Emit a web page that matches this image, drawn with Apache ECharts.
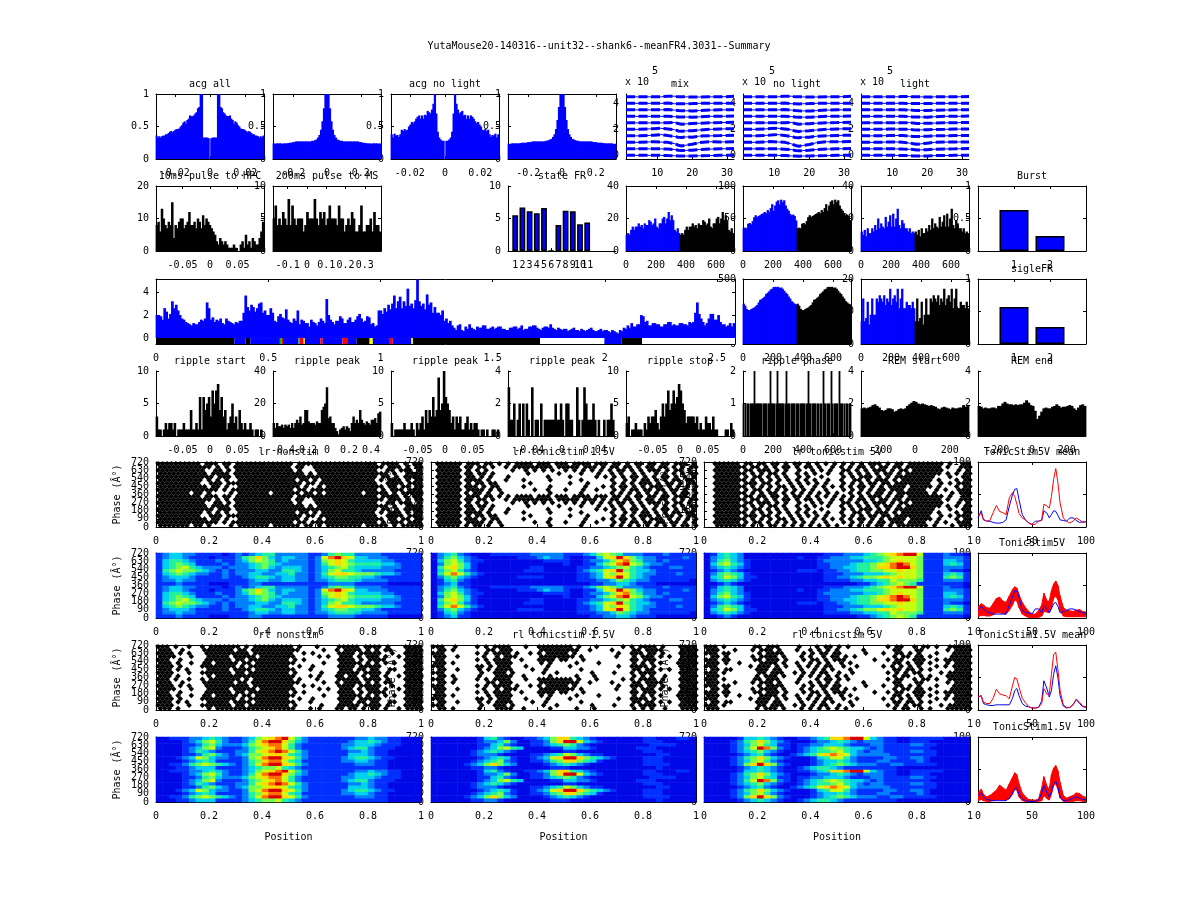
<!DOCTYPE html>
<html><head><meta charset="utf-8"><style>html,body{margin:0;background:#fff}#c{width:1200px;height:900px}</style>
<script src="https://cdn.jsdelivr.net/npm/echarts@6/dist/echarts.min.js"></script></head><body><div id="c"></div>
<script>
// ---------- values ----------
const acgAllHalf=[.36,.33,.35,.33,.35,.36,.36,.38,.38,.40,.42,.43,.41,.43,.45,.46,.46,.47,.50,.52,.56,.58,.54,.60,.62,.67,.66,.66,.67,.70,.72,.78,.80,1.1,1.1,.33,.33,.33,.33,.32,.0];
const acgWideHalf=[.24,.235,.24,.24,.24,.24,.235,.24,.24,.24,.245,.25,.25,.26,.26,.27,.27,.27,.27,.27,.27,.27,.27,.27,.27,.27,.28,.28,.29,.30,.33,.37,.45,.58,.78,1.1,1.1];
const acgNoLightHalf=[.38,.33,.39,.36,.37,.34,.38,.45,.43,.46,.44,.45,.50,.53,.57,.55,.58,.62,.65,.67,.62,.67,.62,.68,.67,.74,.72,.70,.76,.85,1.2,.70,.42,.33,.30,.28,.28,0];
const acgWide2Half=[.235,.23,.24,.24,.24,.24,.24,.24,.245,.25,.25,.25,.25,.26,.26,.26,.27,.27,.27,.27,.27,.27,.27,.27,.27,.28,.28,.29,.30,.31,.34,.38,.46,.60,.80,1.1,1.1];
const pulse10=[8,9,6,13,10,8,7,9,8,15,4,8,7,9,10,10,7,8,9,12,8,8,9,7,10,9,7,11,8,10,9,8,7,6,5,3,2,4,3,2,3,2,1,1,1,2,1,0,0,2,3,1,5,2,3,1,4,3,2,2,4,6,9];
const pulse200=[5,7,4,5,4,6,5,4,8,4,7,5,4,5,5,5,3,4,6,5,5,5,8,5,4,6,5,6,4,5,7,5,5,5,4,7,5,5,3,4,5,4,6,5,3,3,4,7,3,3,4,4,5,3,6,4,4,3];
const stateFR=[5.5,6.7,6.1,5.8,6.6,0,4,6.2,6.1,4.1,4.4];
const phaseMix=[10,11,10,13,15,13,15,15,17,15,16,14,17,16,16,19,18,16,17,20,15,14,17,17,20,21,17,20,24,19,22,19,13,12,14,11];
const phaseNoLight=[35,36,35,42,43,41,46,52,55,52,54,55,57,58,60,58,63,60,66,72,62,70,76,78,72,79,75,78,70,65,62,57,55,56,54,47];
const phaseLight=[12,10,13,9,14,11,11,14,12,16,13,20,14,17,15,14,21,15,18,22,15,23,15,20,26,16,14,19,17,14,14,12,14,11,12,11];
const phaseAll=[310,295,270,262,260,268,275,280,290,300,320,340,345,355,365,385,395,405,420,425,438,440,438,440,430,435,425,410,395,385,365,350,330,320,310,305];
const phaseSparse=[7,14,7,8,13,6,9,14,9,9,14,13,15,14,13,15,12,14,13,17,12,14,15,13,17,11,14,17,11,11,13,12,12,11,13,11];
const burst=[.63,.23];
const singleFR=[.57,.26];
const longHist=[2.0,2.0,1.9,1.6,2.6,2.3,1.7,2.1,3.2,2.6,2.9,2.4,2.0,1.7,1.6,1.4,1.3,1.2,1.1,1.3,1.2,1.2,1.4,1.6,1.5,1.7,3.1,2.6,1.6,1.8,1.4,1.6,1.5,1.7,1.3,1.2,1.7,1.5,1.4,1.3,1.2,1.4,1.3,1.5,1.5,2.2,3.7,2.7,2.4,2.9,2.7,2.3,2.6,3.0,3.1,2.2,2.4,2.0,
2.0,2.6,2.2,1.5,1.4,1.9,2.1,1.8,1.7,2.5,1.6,1.4,1.3,1.7,1.5,2.4,1.2,1.6,1.5,1.3,1.3,1.0,1.6,1.4,1.3,1.1,1.4,1.7,1.5,1.3,3.4,2.0,1.6,1.4,1.2,1.5,1.5,1.9,1.7,1.3,1.3,1.6,1.8,1.4,1.4,1.6,1.9,2.1,1.7,1.4,1.5,1.9,1.8,1.2,1.3,1.0,1.1,2.4,
2.4,2.1,2.6,2.3,2.9,2.5,3.0,3.7,2.6,3.2,3.6,2.6,3.2,2.8,4.3,2.8,3.0,2.6,3.3,5.1,3.2,2.8,3.0,2.5,3.8,2.9,3.1,2.2,2.7,2.2,2.2,2.0,2.4,1.5,1.7,1.3,1.5,1.1,
.9,.7,1.1,1.2,.7,.6,1.0,.8,1.2,.9,.8,.7,1.0,.9,.9,1.1,1.1,.8,.8,.9,1.0,.8,.9,1.0,1.0,.8,.8,.7,.7,.9,.9,1.0,1.0,.8,.9,1.1,.7,.8,.8,1.0,1.0,1.1,1.1,.9,.8,.7,.9,1.0,1.0,.9,1.2,.9,.8,.7,
.9,.8,.7,.8,.8,.6,.7,.8,.9,.7,.7,.6,.8,.7,.6,.7,.8,.9,.7,.6,.6,.7,.8,.6,.7,.7,.6,.5,.7,.6,.5,.4,
.7,.6,.9,.8,1.1,.9,1.3,1.0,1.0,1.2,1.2,2.0,1.9,1.4,1.5,1.1,1.1,1.3,1.3,1.2,1.2,1.0,1.0,1.2,1.2,1.4,1.4,1.1,1.2,1.1,1.1,1.3,1.3,1.2,1.2,1.1,1.4,1.3,1.4,2.2,3.1,2.1,1.7,1.4,1.1,1.3,1.7,2.1,2.1,1.6,1.6,2.0,1.4,1.2,1.2,1.0,1.1,1.3,1.0,1.3];
const stateStart=[0,.349,.399,.420,.552,.559,.566,.635,.640,.658,.663,.732,.743,.831,.852,.894,.952,.966,1.042,1.055,1.138,1.145,1.712,1.998,2.074,2.166];
const stateEnd=[.349,.399,.420,.552,.559,.566,.635,.640,.658,.663,.732,.743,.831,.852,.894,.952,.966,1.042,1.055,1.138,1.145,1.712,1.998,2.074,2.166,2.58];
const stateKind="kbkbgrbgrybrbrbkybrbykwbkw";
const rippleStart=[3,1,1,0,1,2,1,2,2,1,2,0,1,1,1,2,1,1,1,4,1,1,2,1,6,1,6,4,5,6,3,7,5,7,8,4,6,3,4,1,2,3,5,2,3,1,4,2,1,2,1,1,2,1,0,1,1,0,1,0];
const ripplePeakA=[8,5,8,6,6,7,5,7,6,7,5,8,5,8,10,8,12,7,8,16,16,9,8,8,8,7,9,8,8,16,18,20,30,11,12,8,8,5,3,1,4,5,6,4,6,5,3,8,12,8,10,8,16,10,8,7,9,8,7,10,10,11,8,14,15];
const ripplePeakB=[2,0,1,1,1,1,1,2,1,1,1,2,1,0,2,1,2,3,1,4,2,4,3,6,3,4,9,4,5,10,6,5,4,2,3,1,3,2,3,1,1,2,3,1,2,1,2,2,1,0,1,1,0,1,0,0,1,1,0,1];
const ripplePeakC=[3,1,1,2,0,1,2,0,2,0,2,1,0,3,0,1,1,0,2,0,1,1,1,1,1,1,2,1,1,2,1,0,2,2,1,1,0,0,3,1,0,1,3,2,1,1,1,2,1,0,1,0,0,1,0,1,1,2,1,0];
const rippleStop=[2,3,0,1,1,2,1,1,1,0,2,1,3,2,3,3,4,2,1,3,5,3,5,7,4,5,7,5,6,8,7,5,4,2,3,3,3,3,2,3,1,2,1,1,3,2,2,1,3,1,1,0,0,0,0,1,1,0,2,1];
const ripplePhase=[1,0,1,0,1,1,0,1,1,1,1,2,1,1,1,1,1,1,1,0,1,1,1,1,0,1,1,2,1,1,1,1,0,1,2,1,1,1,1,1,1,0,1,2,1,1,1,0,1,1,1,1,0,1,1,1,0,1,1,1,1,1,0,1,1,2,1,1,0,1,1,1,1,0,1,1,0,1,1,0,2,1,1,0,1,1,1,0,2,1,0,1,1,1,1,0,2,1,1,1,0,1,0,1,1,0,1,1];
const remStart=[1.7,1.75,1.7,1.75,1.8,1.9,1.95,1.85,1.75,1.6,1.55,1.6,1.7,1.7,1.65,1.5,1.55,1.65,1.7,1.65,1.7,1.85,1.95,2.05,2.15,2.1,2,1.95,2,1.95,1.9,1.85,1.9,1.85,1.8,1.7,1.65,1.75,1.8,1.75,1.7,1.65,1.75,1.7,1.7,1.75,1.75,1.9,1.8,1.85];
const remEnd=[1.85,1.8,1.7,1.75,1.7,1.7,1.75,1.75,1.7,1.85,1.85,2,2.1,2,1.95,1.95,1.9,1.95,1.9,1.95,1.95,2.05,2.2,2.05,1.9,1.85,1.55,1.05,1.25,1.5,1.7,1.75,1.7,1.7,1.8,1.85,1.95,1.85,1.75,1.8,1.8,1.85,1.9,1.85,1.7,1.6,1.75,1.9,1.95,1.85];
const waveX=[1,5,9,11,13,15,16,17,18,20,22,25,28,32];
const waveLevels=[0,.5,1,1.5,2,2.5,3,3.5,4,4.5];
const waveMix=[[0,0,0,0,-2,-3,-4,-5,-5,-5,-3,-2,0,0],[0,0,0,0,-2,-5,-10,-12,-12,-10,-5,-2,0,2],[0,0,5,2,0,-10,-22,-28,-22,-15,-2,5,3,5],[0,0,5,10,2,-5,-10,-12,-8,-10,-2,0,2,5],[0,0,5,8,3,-3,-12,-15,-12,-10,-5,0,3,5],[0,0,0,0,0,3,-5,-10,-8,-5,-3,0,2,5],[0,0,0,0,0,-2,-5,-5,-5,-6,-4,0,0,2],[0,0,0,0,2,-2,-5,-6,-7,-8,-6,-2,0,0],[0,0,0,0,2,-3,-3,-3,-3,-2,0,0,0,0],[0,0,0,0,5,5,0,0,0,-2,-1,0,0,4]];
const waveNoLight=[[0,0,0,0,-2,-4,-5,-6,-5,-5,-3,-2,0,0],[0,0,0,0,-3,-6,-12,-15,-14,-10,-5,-2,0,2],[0,0,6,3,0,-12,-24,-30,-25,-17,-3,5,4,6],[0,0,6,10,3,-6,-12,-14,-10,-10,-3,0,3,5],[0,0,6,9,3,-4,-13,-16,-13,-10,-5,0,3,5],[0,0,0,0,0,3,-5,-11,-9,-6,-3,0,2,5],[0,0,0,0,0,-2,-5,-6,-6,-7,-4,0,0,2],[0,0,0,0,2,-2,-5,-7,-8,-9,-6,-2,0,0],[0,0,0,0,2,-3,-3,-4,-3,-2,0,0,0,0],[0,0,0,0,5,5,0,0,0,-2,-1,0,0,4]];
const waveLight=[[0,0,0,0,-2,-2,-5,-5,-5,-4,-2,-2,0,0],[0,0,0,0,-2,-3,-5,-8,-8,-6,-3,-1,0,2],[0,0,3,3,0,-6,-10,-15,-12,-6,0,2,3,3],[0,0,2,3,2,-2,-4,-5,-4,-3,0,0,2,2],[0,0,2,2,1,0,-3,-4,-4,-3,-1,0,2,2],[0,0,0,0,0,2,-2,-4,-4,-3,-2,0,1,3],[0,0,0,0,0,-2,-5,-5,-5,-6,-3,0,0,2],[0,0,0,0,1,-1,-3,-4,-4,-4,-3,-1,0,0],[0,0,0,0,1,-1,-2,-2,-2,-1,0,0,0,0],[0,0,0,0,2,2,0,0,0,-1,0,0,0,2]];
const meanX=[0,3,5,8,11,14,17,20,23,26,29,32,34,36,38,41,44,47,50,53,56,59,61,64,66,68,70,72,74,76,79,82,85,88,91,94,97,100];
const mean5Red=[18,21,12,9,10,22,33,24,22,19,45,53,47,35,21,14,11,6,4,4,9,11,35,32,29,47,73,90,68,37,14,9,6,9,14,11,7,8];
const mean5Blue=[14,25,11,9,9,7,6,6,7,11,32,50,58,59,42,19,11,6,4,9,9,10,25,21,14,19,25,24,18,11,10,9,14,14,10,7,8,8];
const mean15Red=[20,22,12,10,10,18,32,25,23,22,17,38,50,48,35,18,11,5,3,3,4,10,33,24,24,55,85,89,62,30,8,4,4,8,17,12,6,5];
const mean15Blue=[20,22,10,8,7,7,8,8,8,8,8,18,30,33,22,10,6,5,3,3,4,14,45,32,20,30,55,68,50,22,6,3,4,8,16,10,5,4];
const cloud5Hi=[17,22,20,16,15,22,30,32,26,24,34,44,48,46,36,24,16,10,6,6,11,20,38,26,26,42,52,57,50,34,16,12,11,10,12,13,10,9];
const cloud5Lo=[2,4,4,3,3,5,8,8,7,6,12,20,28,26,16,6,3,1,1,1,1,3,10,9,8,16,30,34,28,12,3,2,2,2,2,2,2,2];
const cloud5Blue=[12,18,14,10,8,6,6,6,6,6,20,32,42,42,32,12,8,8,6,14,14,8,18,14,8,14,22,24,18,8,10,12,14,14,12,10,8,8];
const cloud15Hi=[14,20,12,8,10,14,18,26,22,18,28,38,45,42,28,14,8,4,3,3,4,22,39,24,20,42,52,56,48,30,10,6,8,10,14,13,9,7];
const cloud15Lo=[2,4,2,1,1,2,3,3,3,3,5,12,20,18,8,2,1,1,1,1,1,2,10,5,3,12,25,28,20,6,1,1,1,1,2,2,1,1];
const cloud15Blue=[10,14,8,4,3,2,2,2,2,2,6,14,20,22,12,5,2,1,1,1,3,14,26,14,8,16,28,32,22,8,2,2,4,6,8,6,4,3];
// spike maps: one cycle of phase, top row = 342 deg, bottom row = 18 deg; 60 position bins, spaces only group them
const rasterLrNon=["########## .###.##.## ########## #.######## ########## .####.#.##","########## ##.#.#.### ########## .##..##### ########## #.###.#.##","########## #..##.#.## ########## #.#...#### ########## ..##.###.#","########## #.####.### ########## ###.#.#### ########## ##.#..####","########## ###.###.## ########## ########## ########## .##.#.####","########## .#.#.#..## ########## #.##.#.### #########. #.###.#.##","########## ..###.#### ########## ###.##.### ########## ..####.###","########## #.##.#..## ########## ##.#..#.## ########## #.##.##.##","########## ####.#.### ########## #.##.##### ########## .#.###.###","#######.## .#....#.## #####.#### ##.##.#.## ######.### ##.#.#####"];
const rasterLr15=[".######.## #.##.#.#.# ###.###.## #.####.### .##.#.##.# #.##.###.#",".#####.##. ##.#..#.## #######.## ###.###.#. ##.##.#.## .##.#.#.##",".######.#. #.#.....#. .#.#.#.#.. #.#.#.#.#. #.##.#.#.# ##.#.##.#.",".#####.##. ##.#...... .#......#. ...#...#.. #.#..#.#.. #.#.#.#.##",".######.## .#.#...#.. ......#... .#.....#.# .#.#.##.#. #.##.#.#.#",".#####.### #.#...#... #.....#... ...#...... #..#.#.##. #.#.##.##.",".######.#. ##.##..... ..#....... .#...#.... .#.#.#.### .#.##.#.##",".#####.### .#.##..... #.....#... ....#...#. #.##.#.#.# ##.#.#.#.#",".######.## ##.#.#.... ...#..#... #...#..#.. .#.#.##.## .##.##.#.#",".#####.#.# #.#..#.... ......#... ...#...... #.#.#.#.#. #.#.#.##.#"];
const raster5V=["..######.# #.##.##.#. ##.#.#.#.# .#.#.#.### .#.##.#### ####.#..##","..#######. ##.#.#.##. #.##.#..#. #.#.##.#.# #.##.##### ###.#..###","..######.# #.###.#.#. .#..#.#.#. .##.#.#.## #.#.##.### ####...#.#","..#######. #.#.##.#.. #.#.#..#.. #.#.#.#.#. ##.#.##### ###.#.#.##","..######.# .##.#.#.#. .#.#..#... .#.#.###.# .#.####### ##...#..##","..#######. #.#.#.#.#. #.#.#..#.. #..##.#.## #.#.###### #.#...#.##","..######.# ##.##.#..# .#.#.#.#.. .#.#.#.##. ##.####### #..#.#.###","..#######. #.#.#.##.# .#..#.#.#. #.#.##.#.# .####.#### #.#...#.##","..######.# .##.#.#.#. #.#.#..#.. .#.#.#.#.# #.###.#### ..#.#..###","..#######. #.#.##.#.# .#.#.#.#.# ..#.#.#.## .#.####### .#...#.###"];
const raster2Non=["###.#..#.. #.#######. #.######## #.#...#... .#####.### #.#...####","###..#.... #######.## .######### ##.....#.. #.####.#.# .##...####","####.#.#.. .######### #.######## #..#.#.... .####.#### #..#..####","####...#.. .#####.### ##.####### #.....#.#. .###.#.### .#..#.####","###..#.... .######.## .######### .#.#...... .####.#.## ##....####","###.#..#.. ##.#####.# #.######## #......#.. .#####.#.# .#.#..####","####.#.... ########.# .######### ..#..#.... .####.#### #.....####","###.#.#... .#####.### #.######## #...#..... .###.##.## ..##..####","####...#.. #######.## .######### .#.....#.. .#####.### #.#...####","###.#..... .#.####### ########## #...#.#... ##.##.#.## .#..#.####"];
const raster2L15=["###..#.... #.#.####.. .#..###### ##.#...#.. ...#.#.### #.#...####",".##.#..... ..##.###.. ....###### ###..#.... #....##.## ##....####","###....... #.#.####.# ..#.#.#### #.#....... ..#..###.# #.#...####","###..#.... .#..#.###. ....###### ##.#...... .#...#.### .#.#..####",".##....... #.#.####.. #...####.# #...#..... .....##.## #.....####","###.#..... ..#.####.. ....#.#... ..#....#.. .....#.#.# .#...#####","###....... ##.#.###.. .#....#... .#........ ..#..####. #.....####",".##..#.... #.#.####.. ..#..#.... ...#...... .....##.## .#.#..####","###....... .#..###.#. .....#..#. ......#... .#...#.### #.....####",".##.#..... #...####.. #.....#... ..#...#... .....#.#.# ..#...####"];
const raster2L5=["###.#..... .##.###... .#...#.##. #.#....... .#.##..#.# #.#..#####","###...#... #.###.#... #..#.#.#.# .....#.... ..##...##. ....#.####","###.##.... ..#.####.. ..#.#.##.# #.....#... #..##.#.#. ..#...####",".##.#..... #.####.#.. .#.#..#.## .#.#...... ..#.##.##. #....#####","###.##.... .##.###.#. ..#.##.#.# ##......#. .#.##..### ..#.######","###.#..#.. ..####.#.. #..#.#.#.. #.#....... ..##.#.##. #...#.####","###....... #.###.#.#. .#.#.#.##. .#..#..... #.#.#.#.#. ..#.#.####",".##.##.... .###.##... .#..#.#.#. ..#....... ..##.##.#. #.....####","###.#..... ..##.###.. #.#.#.##.. #..#...... .#.#.#.##. ...#.#####","###....... .#.###.#.. .#.#.#.#.# .#........ ..#.##..#. #...######"];
// heat maps: one cycle of phase, top row = 342 deg, 40 position bins, 0 = deep blue ... 9 = red
const heatLrNon=["1233221111 0121234422 2221124544 2222111111","1233211101 1124575323 3221268976 3322211111","1344321112 1123565423 2221256764 3333221111","1345431111 2122345432 2221246765 4444332111","1345643222 1222345323 3321234564 3333222111","1456554321 2122233224 4321235644 3222221111","1345432211 2122332233 4221246776 5554332111","1233321111 2112344323 3221234554 4332111111","1223221111 1111233223 3221223444 3222211111","1112111100 0111221111 1111112222 1111100000"];
const heatLr15=["0234210001 1111122222 1112356542 2211121111","0245321000 0001112322 1001136797 5322111121","0356421100 0000000111 1001223578 5422121111","0256531000 0000000000 1001135689 6532211111","0467531000 0000011000 0011223456 4321112211","0356421000 0000111000 0012346795 4332111111","0468642100 0000000000 0011236576 4322111211","0245321000 0001111000 0011236796 4321111111","0134210000 0000000000 0011122354 3221111110","0123110000 0000000000 0000112233 2111000000"];
const heat5V=["0134320000 0000000011 1222345678 9961112110","0234320000 0000100112 2233444566 6651112221","0245321000 0000000122 2222334567 6651113321","0356431000 0000000112 2234456789 8651113431","0234321000 0000000112 2334457789 9751112221","0123210000 0000111011 2234455667 6651112110","0245431000 0000000011 1222333456 6651113431","0346531100 0000000011 2234556767 6651114541","0234321000 0000000011 1122334465 5541112221","0012100000 0000000000 0001123456 5411111110"];
const heat2Non=["0011122343 2112356789 6421111111 2232211000","0000123564 2112468997 5321111112 3343211000","0000112453 2223567886 4211111122 3332111000","0000123562 1112456786 4211111123 4421110000","0000124321 1122467898 6421111112 2321100000","0000112453 2123556776 4321111113 3321100000","0001236532 2112568997 6421111123 4432110000","0000123431 1112457886 4311111122 3321100000","0011245654 3212468997 6421111111 2221100000","0001123331 1112345564 3211111111 1111100000"];
const heat2L15=["0000000134 2100112357 7432100000 0011000110","0000000122 3520011257 9963210000 0011100000","0000000113 4210011234 5421000000 0001111000","0000000123 5643000011 3322100000 0111000000","0000001234 3210000000 1100000000 0011100000","0000001222 1000011234 6532110000 0000110000","0000000123 4310012367 9975432100 0011100000","0000001234 5210011245 7754310000 0011100000","0000012357 5320000123 4321000000 0011110000","0000001122 1000000011 1000000000 0000100000"];
const heat2L5=["0000013343 2100112347 7899632110 0111110000","0000124575 3210001223 4321222110 0111000000","0000123564 3110112233 3211122111 1221100000","0000124698 5210123456 5433212111 1111000000","0000123453 2100123445 6432122111 1221100000","0000012342 1001234678 7632222211 1111100000","0000124575 3210001346 6421111221 1221000000","0000123564 2100001233 4321112211 1121000000","0000125797 5210001234 5432221122 1111100000","0000012343 2100123443 2111111110 0000000000"];
const posTicks=[0,.2,.4,.6,.8,1];
const phaseTicks=[0,90,180,270,360,450,540,630,720];
const hundredTicks=[0,50,100];
const phaseHistTicks=[0,200,400,600];
const lineTicksY=[0,.5,1];
// ---------- layout ----------
const FONT='DejaVu Sans Mono';
const colX=[156,273,391,508,626,743,861,978];
const W=108,H=65;
const rowY=[94,186,279,371,462,553,645,737];
const colors={k:'#000',b:'#0000ff',g:'#00c000',r:'#ff0000',y:'#ffff00',w:'#ffffff'};
const heatColors=['#0008e8','#0030ff','#0080ff','#00d0f0','#20f0a0','#70ff50','#c8ff10','#ffd800','#ff7000','#d80000'];
const grid=[],xAxis=[],yAxis=[],series=[],title=[],heatIdx=[];
function text(x,y,t,align){title.push({text:t,left:x,top:y-6,padding:0,textAlign:align||'center',textStyle:{fontFamily:FONT,fontSize:10,fontWeight:'normal',color:'#000',lineHeight:12}});}
function ax(gi,type,pos,min,max,ticks,labels,extra,shown){
 const line={color:'#000',width:1};
 const show=shown||ticks;
 const eps=(max-min)*1e-6;
 // blank neighbours at both ends keep every real label through the min/max overlap check
 const vals=show.slice();
 vals.unshift(vals[0]>min?min:min+eps);
 vals.push(vals[vals.length-1]<max?max:max-eps);
 if(vals[vals.length-1]===max-eps){const t=vals.pop();vals.splice(vals.length-1,0,t);}
 if(vals[0]===min+eps){const t=vals.shift();vals.splice(1,0,t);}
 return Object.assign({gridIndex:gi,type:'value',position:pos,min,max,scale:true,
  axisLine:{show:true,onZero:false,lineStyle:line},splitLine:{show:false},
  axisTick:{show:true,inside:true,length:3,lineStyle:line,customValues:ticks},
  axisLabel:labels?{show:true,customValues:vals,margin:type==='x'?9:7,fontFamily:FONT,fontSize:10,color:'#000',hideOverlap:false,formatter:v=>show.includes(v)?String(v):''}:{show:false,customValues:ticks}},extra||{});
}
function plot(o){
 const gi=grid.length;
 const w=o.w||W,h=o.h||H;
 grid.push({left:o.x,top:o.y,width:w,height:h});
 const xi=xAxis.length,yi=yAxis.length;
 const xx={},yx={};
 if(o.xname)Object.assign(xx,{name:o.xname,nameLocation:'middle',nameGap:30,nameTextStyle:{fontFamily:FONT,fontSize:10,color:'#000'}});
 if(o.yname)Object.assign(yx,{name:o.yname,nameLocation:'middle',nameGap:34,nameTextStyle:{fontFamily:FONT,fontSize:10,color:'#000'}});
 xAxis.push(ax(gi,'x','bottom',o.xr[0],o.xr[1],o.xt,true,xx));
 yAxis.push(ax(gi,'y','left',o.yr[0],o.yr[1],o.yt,true,yx,o.yl));
 if(o.box!==false){
  xAxis.push(ax(gi,'x','top',o.xr[0],o.xr[1],o.xt,false));
  yAxis.push(ax(gi,'y','right',o.yr[0],o.yr[1],o.yt,false));
 }
 if(o.title)text(o.x+w/2,o.y-10,o.title);
 return {gi,xi,yi,w,h,xr:o.xr};
}
function bars(p,vals,colorFn){
 const n=vals.length,step=(p.xr[1]-p.xr[0])/n;
 series.push({type:'bar',xAxisIndex:p.xi,yAxisIndex:p.yi,barWidth:p.w/n+0.8,animation:false,
  itemStyle:{color:colorFn||'#000'},data:vals.map((v,i)=>[p.xr[0]+(i+.5)*step,v])});
}
const mirror=a=>a.concat(a.slice(0,-1).reverse());
const twice=a=>a.concat(a);
const splitColor=p=>p.dataIndex<36?'#0000ff':'#000000';
function boxedBars(p,xs,vals,width){
 series.push({type:'bar',xAxisIndex:p.xi,yAxisIndex:p.yi,barWidth:width,animation:false,
  itemStyle:{color:'#0000ff',borderColor:'#000',borderWidth:1.5},data:vals.map((v,i)=>[xs[i],v])});
}
function wave(p,rows){
 rows.forEach((r,i)=>{
  const d=r.map((v,j)=>[waveX[j],waveLevels[i]+v/100]);
  series.push({type:'line',xAxisIndex:p.xi,yAxisIndex:p.yi,showSymbol:false,animation:false,lineStyle:{color:'#0000ff',width:1},data:d});
  series.push({type:'line',xAxisIndex:p.xi,yAxisIndex:p.yi,showSymbol:false,animation:false,lineStyle:{color:'#0000ff',width:3,type:[9,3.5],cap:'butt'},data:d});
 });
}
function raster(p,rows,size){
 const pts=[];
 for(let cyc=0;cyc<2;cyc++)rows.forEach((raw,r)=>{
  const s=raw.replace(/ /g,''),n=s.length,half=(r%2)*.5;
  for(let c=0;c<n;c++)if(s[c]==='#')pts.push([(c+.5+half)/n,cyc*360+(rows.length-1-r+.5)*36]);
 });
 series.push({type:'scatter',xAxisIndex:p.xi,yAxisIndex:p.yi,symbol:'diamond',symbolSize:size,clip:false,animation:false,itemStyle:{color:'#000',opacity:1},data:pts});
}
function heat(p,rawRows){
 const rows=rawRows.map(s=>s.replace(/ /g,''));
 const cx=xAxis.length,cy=yAxis.length;
 xAxis.push({gridIndex:p.gi,type:'category',show:false,data:rows[0].split('').map((_,i)=>i)});
 const yn=rows.length*2;
 yAxis.push({gridIndex:p.gi,type:'category',show:false,data:Array.from({length:yn},(_,i)=>i)});
 const pts=[];
 for(let cyc=0;cyc<2;cyc++)rows.forEach((s,r)=>{
  for(let c=0;c<s.length;c++)pts.push([c,cyc*rows.length+rows.length-1-r,+s[c]]);
 });
 heatIdx.push(series.length);
 series.push({type:'heatmap',xAxisIndex:cx,yAxisIndex:cy,animation:false,data:pts});
}
function lines(p,data,color,w){
 series.push({type:'line',xAxisIndex:p.xi,yAxisIndex:p.yi,showSymbol:false,animation:false,lineStyle:{color,width:w||1},data:data.map((v,i)=>[meanX[i],v])});
}
function cloud(p,lo,hi,blue){
 series.push({type:'custom',xAxisIndex:p.xi,yAxisIndex:p.yi,animation:false,clip:true,encode:{x:0,y:[1,2]},
  data:meanX.map((x,i)=>[x,lo[i],hi[i],i]),
  renderItem:(params,api)=>{
   const i=api.value(3);
   if(i>=meanX.length-1)return null;
   const pts=[[meanX[i],lo[i]],[meanX[i],hi[i]],[meanX[i+1],hi[i+1]],[meanX[i+1],lo[i+1]]].map(c=>api.coord(c));
   return {type:'polygon',shape:{points:pts},style:{fill:'#ff0000',stroke:'#ff0000',lineWidth:1}};
  }});
 lines(p,blue,'#0000ff',1);
}
// ---------- row 1 ----------
const acgT=[-.02,0,.02],acgWT=[-.2,0,.2],unitT=[0,.5,1];
bars(plot({x:colX[0],y:rowY[0],xr:[-.0307,.0307],xt:acgT,yr:[0,1],yt:unitT,title:'acg all'}),mirror(acgAllHalf),'#0000ff');
bars(plot({x:colX[1],y:rowY[0],xr:[-.32,.32],xt:acgWT,yr:[0,1],yt:unitT}),mirror(acgWideHalf),'#0000ff');
bars(plot({x:colX[2],y:rowY[0],xr:[-.0307,.0307],xt:acgT,yr:[0,1],yt:unitT,title:'acg no light'}),mirror(acgNoLightHalf),'#0000ff');
bars(plot({x:colX[3],y:rowY[0],xr:[-.32,.32],xt:acgWT,yr:[0,1],yt:unitT}),mirror(acgWide2Half),'#0000ff');
[[4,'mix',waveMix],[5,'no light',waveNoLight],[6,'light',waveLight]].forEach(([c,t,d])=>{
 const p=plot({x:colX[c],y:rowY[0],xr:[1,32],xt:[10,20,30],yr:[-.28,4.72],yt:[0,2,4],box:false});
 wave(p,d);
 text(colX[c]+54,84,t);
 text(colX[c]-1,82,'x 10','left');
 text(colX[c]+26,71,'5','left');
});
// ---------- row 2 ----------
bars(plot({x:colX[0],y:rowY[1],xr:[-.098,.098],xt:[-.05,0,.05],yr:[0,20],yt:[0,10,20],title:'10ms pulse to HPC'}),pulse10);
bars(plot({x:colX[1],y:rowY[1],xr:[-.176,.384],xt:[-.1,0,.1,.2,.3],yr:[0,10],yt:[0,5,10],title:'200ms pulse to MS'}),pulse200);
const sfrX=stateFR.map((_,i)=>i+1);
boxedBars(plot({x:colX[3],y:rowY[1],xr:[0,15],xt:sfrX,yr:[0,10],yt:[0,5,10],title:'state FR',box:false}),sfrX,stateFR,5.8);
bars(plot({x:colX[4],y:rowY[1],xr:[0,720],xt:phaseHistTicks,yr:[0,40],yt:[0,20,40]}),twice(phaseMix),splitColor);
bars(plot({x:colX[5],y:rowY[1],xr:[0,720],xt:phaseHistTicks,yr:[0,100],yt:[0,50,100]}),twice(phaseNoLight),splitColor);
bars(plot({x:colX[6],y:rowY[1],xr:[0,720],xt:phaseHistTicks,yr:[0,40],yt:[0,20,40]}),twice(phaseLight),splitColor);
boxedBars(plot({x:colX[7],y:rowY[1],xr:[0,3],xt:[1,2],yr:[0,1],yt:lineTicksY,title:'Burst'}),[1,2],burst,29);
// ---------- row 3 ----------
const longP=plot({x:colX[0],y:rowY[2],w:579,xr:[0,2.58],xt:[0,.5,1,1.5,2,2.5],yr:[-.52,5.14],yt:[0,2,4]});
bars(longP,longHist,'#0000ff');
series.push({type:'custom',xAxisIndex:longP.xi,yAxisIndex:longP.yi,animation:false,
 data:stateStart.map((s,i)=>[s,stateEnd[i],i]),encode:{x:[0,1]},
 renderItem:(params,api)=>{
  const a=api.coord([api.value(0),0]),b=api.coord([api.value(1),-.52]);
  return {type:'rect',shape:{x:a[0],y:a[1],width:b[0]-a[0],height:b[1]-a[1]},style:{fill:colors[stateKind[api.value(2)]]}};
 }});
bars(plot({x:colX[5],y:rowY[2],xr:[0,720],xt:phaseHistTicks,yr:[0,500],yt:[0,250,500],yl:[0,500]}),twice(phaseAll),splitColor);
bars(plot({x:colX[6],y:rowY[2],xr:[0,720],xt:phaseHistTicks,yr:[0,20],yt:[0,10,20]}),twice(phaseSparse),splitColor);
boxedBars(plot({x:colX[7],y:rowY[2],xr:[0,3],xt:[1,2],yr:[0,1],yt:lineTicksY,title:'sigleFR'}),[1,2],singleFR,29);
// ---------- row 4 ----------
const r4=[[rippleStart,'ripple start',[-.098,.098],[-.05,0,.05],[0,10],[0,5,10]],
 [ripplePeakA,'ripple peak',[-.49,.49],[-.4,-.2,0,.2,.4],[0,40],[0,20,40]],
 [ripplePeakB,'ripple peak',[-.098,.098],[-.05,0,.05],[0,10],[0,5,10]],
 [ripplePeakC,'ripple peak',[-.066,.066],[-.04,0,.04],[0,4],[0,2,4]],
 [rippleStop,'ripple stop',[-.098,.098],[-.05,0,.05],[0,10],[0,5,10]],
 [ripplePhase,'ripple phase',[0,720],phaseHistTicks,[0,2],[0,1,2]],
 [remStart,'REM start',[-310,310],[-200,0,200],[0,4],[0,2,4]],
 [remEnd,'REM end',[-310,310],[-200,0,200],[0,4],[0,2,4]]];
r4.forEach((r,i)=>bars(plot({x:colX[i],y:rowY[3],xr:r[2],xt:r[3],yr:r[4],yt:r[5],title:r[1],box:false}),r[0]));
// ---------- raster / heat rows ----------
const bigX=[156,431,704],bigW=[265,265,266];
const PH='Phase (\u00C2\u00B0)';
const big=[[4,['lr nonstim','lr tonicstim 1.5V','lr tonicstim 5V'],[rasterLrNon,rasterLr15,raster5V],true],
 [5,[null,null,null],[heatLrNon,heatLr15,heat5V],false],
 [6,['rl nonstim','rl tonicstim 1.5V','rl tonicstim 5V'],[raster2Non,raster2L15,raster2L5],true],
 [7,[null,null,null],[heat2Non,heat2L15,heat2L5],false]];
big.forEach(([r,ts,ds,isR])=>ds.forEach((d,i)=>{
 const p=plot({x:bigX[i],y:rowY[r],w:bigW[i],xr:[0,1],xt:posTicks,yr:[0,720],yt:phaseTicks,title:ts[i],yname:PH,xname:r===7?'Position':null});
 if(isR)raster(p,d,r===4&&i===0?5.5:5.5); else heat(p,d);
}));
// ---------- right column ----------
const rP=(y,t)=>plot({x:colX[7],y,xr:[0,100],xt:hundredTicks,yr:[0,100],yt:hundredTicks,title:t});
let q=rP(rowY[4],'TonicStim5V mean');lines(q,mean5Blue,'#0000ff');lines(q,mean5Red,'#ff0000');
q=rP(rowY[5],'TonicStim5V');cloud(q,cloud5Lo,cloud5Hi,cloud5Blue);
q=rP(rowY[6],'TonicStim1.5V mean');lines(q,mean15Blue,'#0000ff');lines(q,mean15Red,'#ff0000');
q=rP(rowY[7],'TonicStim1.5V');cloud(q,cloud15Lo,cloud15Hi,cloud15Blue);
text(599,46,'YutaMouse20-140316--unit32--shank6--meanFR4.3031--Summary');
const chart=echarts.init(document.getElementById('c'),null,{renderer:'canvas'});
chart.setOption({backgroundColor:'#fff',animation:false,title,grid,xAxis,yAxis,series,tooltip:{show:false},
 visualMap:{show:false,type:'continuous',min:0,max:9,dimension:2,seriesIndex:heatIdx,inRange:{color:heatColors}}});
</script></body></html>
